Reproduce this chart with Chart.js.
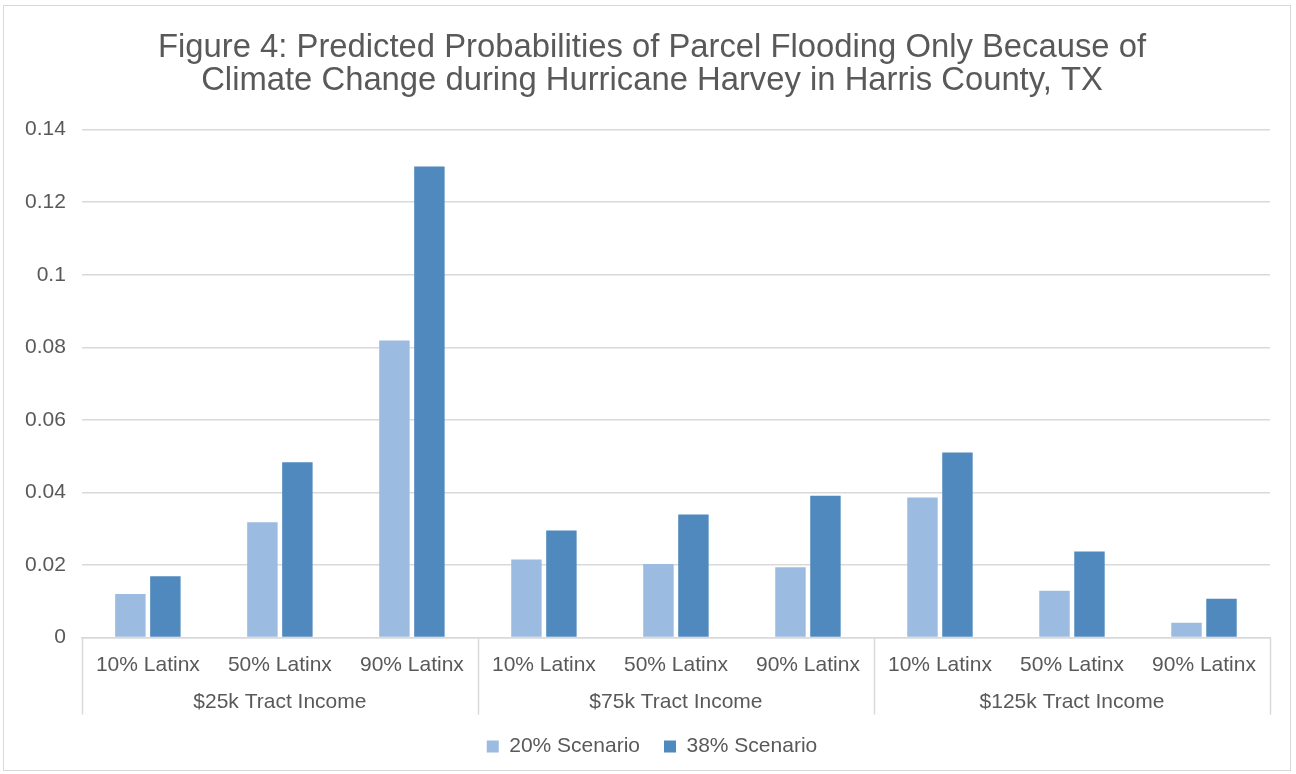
<!DOCTYPE html>
<html>
<head>
<meta charset="utf-8">
<script src="https://cdn.jsdelivr.net/npm/chart.js@4"></script>
<style>
  body { margin: 0; background: #fff; }
  #frame { position: absolute; left: 3px; top: 5px; width: 1286px; height: 764px; border: 1px solid #d9d9d9; }
  #wrap { position: absolute; left: 0; top: 0; width: 1286px; height: 764px; }
</style>
</head>
<body>
<div id="frame"><div id="wrap"><canvas id="myChart"></canvas></div></div>
<script>
const titleLines = ['Figure 4: Predicted Probabilities of Parcel Flooding Only Because of',
                    'Climate Change during Hurricane Harvey in Harris County, TX'];
const latinxLabels = ['10% Latinx', '50% Latinx', '90% Latinx',
                      '10% Latinx', '50% Latinx', '90% Latinx',
                      '10% Latinx', '50% Latinx', '90% Latinx'];
const incomeGroups = ['$25k Tract Income', '$75k Tract Income', '$125k Tract Income'];
const scenario20 = [0.0120, 0.0318, 0.0819, 0.0215, 0.0203, 0.0194, 0.0386, 0.0129, 0.0041];
const scenario38 = [0.0169, 0.0483, 0.1298, 0.0295, 0.0339, 0.0391, 0.0510, 0.0237, 0.0107];
const yTickLabels = ['0', '0.02', '0.04', '0.06', '0.08', '0.1', '0.12', '0.14'];

const grey = '#595959';
const lineGrey = '#d9d9d9';
const font = 'Arial, "Liberation Sans", sans-serif';

// vertical separators between the income groups
const groupLines = {
  id: 'groupLines',
  afterLayout(chart) {
    // let the y labels draw left of the (narrowed) axis box
    chart.scales.y.left = 0;
  },
  afterDraw(chart) {
    const x = chart.scales.x;
    const c = chart.ctx;
    c.save();
    c.strokeStyle = lineGrey;
    c.lineWidth = 1.5;
    for (let b = 0; b <= latinxLabels.length; b += 3) {
      const px = Math.round(x.getPixelForValue(b - 0.5)) + 0.5;
      c.beginPath();
      c.moveTo(px, x.top);
      c.lineTo(px, x.top + 77);
      c.stroke();
    }
    c.restore();
  }
};

const ctx = document.getElementById('myChart').getContext('2d');
chart = new Chart(ctx, {
  type: 'bar',
  data: {
    labels: latinxLabels,
    datasets: [{
      label: '20% Scenario',
      data: scenario20,
      backgroundColor: '#9bbbe0',
      categoryPercentage: 0.53,
      barPercentage: 0.87
    },
    {
      label: '38% Scenario',
      data: scenario38,
      backgroundColor: '#4f89bd',
      categoryPercentage: 0.53,
      barPercentage: 0.87
    }]
  },
  options: {
    animation: false,
    responsive: true,
    maintainAspectRatio: false,
    layout: { padding: { left: 30, right: 20, top: 10, bottom: 3 } },
    plugins: {
      title: {
        display: true,
        text: titleLines,
        color: grey,
        font: { family: font, size: 32.8, weight: 'normal', lineHeight: 1.0 },
        padding: { top: 16, bottom: 32 }
      },
      legend: {
        position: 'bottom',
        labels: {
          color: grey,
          font: { family: font, size: 21, lineHeight: 1.0 },
          boxWidth: 12,
          boxHeight: 12,
          padding: 24
        }
      },
      tooltip: { enabled: false }
    },
    scales: {
      x: {
        grid: { display: false, drawTicks: false },
        border: { color: lineGrey, width: 1.5 },
        ticks: { color: grey, font: { family: font, size: 21 }, padding: 15, maxRotation: 0, autoSkip: false }
      },
      x2: {
        type: 'category',
        position: 'bottom',
        labels: incomeGroups,
        offset: true,
        grid: { display: false, drawTicks: false },
        border: { display: false },
        ticks: { color: grey, font: { family: font, size: 21 }, padding: -3, maxRotation: 0 }
      },
      y: {
        min: 0,
        max: 0.14,
        afterFit: (scale) => { scale.width -= 25; },
        ticks: {
          stepSize: 0.02,
          color: grey,
          font: { family: font, size: 21 },
          padding: 16,
          callback: (v, i) => yTickLabels[i]
        },
        grid: { color: lineGrey, lineWidth: 1.5, drawTicks: false },
        border: { display: false }
      }
    }
  },
  plugins: [groupLines]
});
</script>
</body>
</html>
